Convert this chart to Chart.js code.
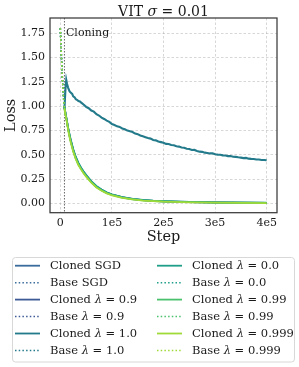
<!DOCTYPE html>
<html>
<head>
<meta charset="utf-8">
<script src="https://cdn.jsdelivr.net/npm/chart.js@4.4.1/dist/chart.umd.min.js"></script>
<style>
  html, body { margin: 0; padding: 0; background: #fff; }
  #wrap { width: 299px; height: 367px; position: relative; }
</style>
</head>
<body>
<div id="wrap"><canvas id="c" width="299" height="367"></canvas></div>
<script>
// tick labels
var xTicks = [0, 100000, 200000, 300000, 400000];
var xTickLabels = ['0', '1e5', '2e5', '3e5', '4e5'];
var yTicks = [0, 0.25, 0.5, 0.75, 1.0, 1.25, 1.5, 1.75];
var cloneStep = 8000;

// base runs (before cloning)
var baseSteps = [0, 2000, 4000, 6000, 8000, 10000];
var baseSgd   = [1.80, 1.53, 1.29, 1.11, 0.98, 0.90];
var base09    = [1.80, 1.52, 1.28, 1.10, 0.98, 0.90];
var base10    = [1.80, 1.53, 1.29, 1.10, 0.97, 0.89];
var base00    = [1.80, 1.52, 1.28, 1.11, 0.98, 0.90];
var base099   = [1.80, 1.53, 1.29, 1.10, 0.98, 0.90];
var base0999  = [1.80, 1.52, 1.28, 1.10, 0.97, 0.89];

// cloned runs that converge
var lowSteps = [8000, 10000, 12500, 15000, 17500, 20000, 25000, 30000, 35000, 40000, 45000, 50000,
  60000, 70000, 80000, 90000, 100000, 120000, 140000, 160000, 180000, 200000, 250000, 300000, 350000, 400000];
var clonedSgd  = [0.99, 0.93, 0.85, 0.78, 0.71, 0.65, 0.55, 0.47, 0.41, 0.365, 0.325, 0.29, 0.225, 0.175, 0.14, 0.112, 0.092, 0.064, 0.046, 0.035, 0.027, 0.022, 0.015, 0.011, 0.008, 0.006];
var cloned09   = [0.99, 0.92, 0.85, 0.77, 0.71, 0.65, 0.55, 0.47, 0.41, 0.36, 0.32, 0.285, 0.222, 0.172, 0.137, 0.11, 0.09, 0.062, 0.045, 0.034, 0.027, 0.021, 0.014, 0.010, 0.008, 0.006];
var cloned00   = [0.99, 0.93, 0.86, 0.78, 0.72, 0.66, 0.56, 0.48, 0.42, 0.37, 0.33, 0.295, 0.23, 0.18, 0.143, 0.115, 0.094, 0.066, 0.048, 0.036, 0.028, 0.023, 0.016, 0.012, 0.009, 0.007];
var cloned099  = [0.99, 0.92, 0.85, 0.77, 0.70, 0.64, 0.54, 0.46, 0.40, 0.355, 0.315, 0.28, 0.218, 0.168, 0.133, 0.106, 0.087, 0.060, 0.043, 0.032, 0.025, 0.020, 0.013, 0.009, 0.007, 0.005];
var cloned0999 = [0.98, 0.91, 0.84, 0.76, 0.69, 0.63, 0.53, 0.455, 0.395, 0.35, 0.31, 0.275, 0.213, 0.164, 0.13, 0.103, 0.084, 0.057, 0.041, 0.030, 0.023, 0.018, 0.012, 0.008, 0.006, 0.004];

// cloned lambda = 1.0 (stays high)
var highSteps = [8000, 10000, 11500, 13000, 15000, 18000, 20000, 23000, 25000, 28000, 30000, 33000, 35000, 38000, 40000,
  45000, 50000, 55000, 60000, 65000, 70000, 75000, 80000, 85000, 90000, 95000,
  100000, 105000, 110000, 115000, 120000, 125000, 130000, 135000, 140000, 145000, 150000, 155000, 160000, 165000,
  170000, 175000, 180000, 185000, 190000, 195000, 200000, 205000, 210000, 215000, 220000, 225000, 230000, 235000,
  240000, 245000, 250000, 255000, 260000, 265000, 270000, 275000, 280000, 285000, 290000, 295000, 300000, 305000,
  310000, 315000, 320000, 325000, 330000, 335000, 340000, 345000, 350000, 355000, 360000, 365000, 370000, 375000,
  380000, 385000, 390000, 395000, 400000];
var cloned10 = [0.97, 1.18, 1.27, 1.23, 1.19, 1.15, 1.14, 1.125, 1.10, 1.088, 1.07, 1.062, 1.052, 1.048, 1.038,
  1.016, 0.992, 0.978, 0.955, 0.943, 0.917, 0.903, 0.882, 0.868, 0.851, 0.838,
  0.815, 0.806, 0.792, 0.786, 0.770, 0.762, 0.748, 0.741, 0.733, 0.718, 0.712, 0.698, 0.690, 0.681,
  0.672, 0.666, 0.652, 0.648, 0.636, 0.630, 0.624, 0.612, 0.611, 0.601, 0.598, 0.588, 0.584, 0.574,
  0.572, 0.562, 0.560, 0.549, 0.550, 0.540, 0.532, 0.530, 0.522, 0.519, 0.514, 0.516, 0.505, 0.502,
  0.500, 0.494, 0.493, 0.486, 0.488, 0.480, 0.478, 0.474, 0.471, 0.466, 0.468, 0.460, 0.458, 0.457,
  0.451, 0.452, 0.447, 0.446, 0.444];

var cSgd = '#3a6c9c', c09 = '#3d5a96', c10 = '#237a8b', c00 = '#1f9e89', c099 = '#4ac16d', c0999 = '#a0da39';

function pts(steps, vals) {
  return steps.map(function (s, i) { return { x: s, y: vals[i] }; });
}
function cloned(label, steps, vals, color, w) {
  return { label: label, data: pts(steps, vals), borderColor: color, borderWidth: w || 1.8, pointRadius: 0, fill: false };
}
function base(label, vals, color) {
  return { label: label, data: pts(baseSteps, vals), borderColor: color, borderWidth: 1.5, borderDash: [1.5, 2.2], pointRadius: 0, fill: false };
}

var datasets = [
  cloned('Cloned SGD', lowSteps, clonedSgd, cSgd),
  base('Base SGD', baseSgd, cSgd),
  cloned('Cloned λ = 0.9', lowSteps, cloned09, c09),
  base('Base λ = 0.9', base09, c09),
  cloned('Cloned λ = 1.0', highSteps, cloned10, c10, 2.1),
  base('Base λ = 1.0', base10, c10),
  cloned('Cloned λ = 0.0', lowSteps, cloned00, c00),
  base('Base λ = 0.0', base00, c00),
  cloned('Cloned λ = 0.99', lowSteps, cloned099, c099),
  base('Base λ = 0.99', base099, c099),
  cloned('Cloned λ = 0.999', lowSteps, cloned0999, c0999),
  base('Base λ = 0.999', base0999, c0999)
];
// later datasets drawn on top, like matplotlib
datasets.forEach(function (d, i) { d.order = datasets.length - i; });

var serif = "'DejaVu Serif', serif";

// draws text, putting λ / σ in italic
function mixedText(ctx, str, x, y, size) {
  var parts = str.split(/([λσ])/);
  parts.forEach(function (p) {
    if (!p) return;
    ctx.font = ((p === 'λ' || p === 'σ') ? 'italic ' : '') + size + 'px ' + serif;
    ctx.fillText(p, x, y);
    x += ctx.measureText(p).width;
  });
  return x;
}

var extras = {
  id: 'extras',
  beforeDatasetsDraw: function (chart) {
    var ctx = chart.ctx, a = chart.chartArea;
    var xs = chart.scales.x.getPixelForValue(cloneStep);
    ctx.save();
    ctx.strokeStyle = '#666';
    ctx.lineWidth = 1;
    ctx.setLineDash([1.5, 1.5]);
    ctx.beginPath();
    ctx.moveTo(xs, a.top);
    ctx.lineTo(xs, a.bottom);
    ctx.stroke();
    ctx.restore();
  },
  afterDatasetsDraw: function (chart) {
    var ctx = chart.ctx, a = chart.chartArea;
    ctx.save();
    // frame
    ctx.strokeStyle = '#3a3a3a';
    ctx.lineWidth = 1.25;
    ctx.strokeRect(a.left, a.top, a.right - a.left, a.bottom - a.top);
    // cloning label
    var xs = chart.scales.x.getPixelForValue(cloneStep);
    ctx.fillStyle = '#1a1a1a';
    ctx.textBaseline = 'middle';
    ctx.font = '11px ' + serif;
    ctx.fillText('Cloning', xs + 1.5, chart.scales.y.getPixelForValue(1.75));
    // title
    ctx.textBaseline = 'alphabetic';
    var title = 'VIT σ = 0.01';
    var w = 0;
    title.split(/([λσ])/).forEach(function (p) {
      if (!p) return;
      ctx.font = ((p === 'σ') ? 'italic ' : '') + '14px ' + serif;
      w += ctx.measureText(p).width;
    });
    mixedText(ctx, title, (a.left + a.right) / 2 - w / 2, 16, 14);

    // legend, two columns
    var lx = 12.5, ly = 257.5, lw = 282, lh = 104.5;
    ctx.fillStyle = 'rgba(255,255,255,0.8)';
    ctx.strokeStyle = '#d8d8d8';
    ctx.lineWidth = 1;
    ctx.setLineDash([]);
    ctx.beginPath();
    ctx.roundRect(lx, ly, lw, lh, 3);
    ctx.fill();
    ctx.stroke();
    var cols = [15, 157];
    chart.data.datasets.forEach(function (d, i) {
      var col = Math.floor(i / 6), row = i % 6;
      var x0 = cols[col], y0 = 265.7 + row * 16.95;
      ctx.strokeStyle = d.borderColor;
      ctx.lineWidth = Math.min(d.borderWidth, 1.8);
      ctx.setLineDash(d.borderDash || []);
      ctx.beginPath();
      ctx.moveTo(x0, y0);
      ctx.lineTo(x0 + 25, y0);
      ctx.stroke();
      ctx.setLineDash([]);
      ctx.fillStyle = '#1a1a1a';
      ctx.textBaseline = 'middle';
      mixedText(ctx, d.label, x0 + 35, y0 + 0.5, 11.5);
    });
    ctx.restore();
  }
};

new Chart(document.getElementById('c'), {
  type: 'line',
  data: { datasets: datasets },
  plugins: [extras],
  options: {
    responsive: false,
    animation: false,
    events: [],
    layout: { padding: { top: 18, right: 22, bottom: 120, left: 0 } },
    plugins: { legend: { display: false }, title: { display: false }, tooltip: { enabled: false } },
    scales: {
      x: {
        type: 'linear',
        min: -20000,
        max: 420000,
        afterBuildTicks: function (s) { s.ticks = xTicks.map(function (v) { return { value: v }; }); },
        afterFit: function (s) { s.height = 34.3; },
        ticks: {
          padding: 4,
          color: '#1a1a1a',
          font: { family: serif, size: 11 },
          callback: function (v) { return xTickLabels[xTicks.indexOf(v)]; }
        },
        grid: { color: 'rgba(170,170,170,0.6)', lineWidth: 0.8, drawTicks: false },
        border: { display: false, dash: [2.5, 2] },
        title: { display: true, text: 'Step', color: '#1a1a1a', font: { family: serif, size: 14.5 }, padding: { top: 0, bottom: 1.5 } }
      },
      y: {
        min: -0.095,
        max: 1.905,
        afterBuildTicks: function (s) { s.ticks = yTicks.map(function (v) { return { value: v }; }); },
        afterFit: function (s) { s.width = 50; },
        ticks: {
          padding: 5,
          color: '#1a1a1a',
          font: { family: serif, size: 11 },
          callback: function (v) { return v.toFixed(2); }
        },
        grid: { color: 'rgba(170,170,170,0.6)', lineWidth: 0.8, drawTicks: false },
        border: { display: false, dash: [2.5, 2] },
        title: { display: true, text: 'Loss', color: '#1a1a1a', font: { family: serif, size: 14.5 }, padding: { top: 2.3, bottom: 0 } }
      }
    }
  }
});
</script>
</body>
</html>
